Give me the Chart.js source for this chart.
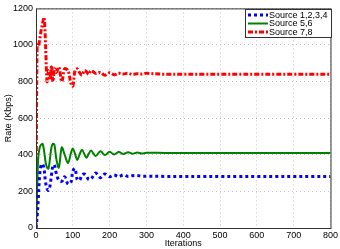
<!DOCTYPE html>
<html>
<head>
<meta charset="utf-8">
<script src="https://cdn.jsdelivr.net/npm/chart.js@4.4.1/dist/chart.umd.min.js"></script>
<style>
  html, body { margin: 0; padding: 0; background: #fff; }
  #wrap { width: 340px; height: 249px; }
</style>
</head>
<body>
<div id="wrap"><canvas id="rateChart"></canvas></div>
<script>
// iterations
const iterations = [0, 3, 6, 10, 14, 18, 22, 26, 30, 34, 38, 42, 46, 50, 55, 62, 70, 78, 87, 95, 100, 106, 112, 118, 125, 131, 137, 143, 150, 162, 175, 187, 200, 212, 225, 237, 250, 262, 275, 287, 300, 350, 400, 450, 500, 550, 600, 650, 700, 750, 800];

const src1234 = [0, 60, 150, 290, 345, 350, 320, 250, 215, 205, 230, 290, 340, 345, 300, 260, 255, 280, 240, 250, 310, 325, 265, 260, 290, 295, 285, 265, 270, 300, 275, 295, 280, 290, 280, 290, 282, 286, 287, 283, 283, 282, 282, 282, 282, 282, 282, 282, 282, 282, 282];
const src56 = [0, 200, 380, 440, 455, 460, 420, 360, 330, 325, 380, 440, 460, 455, 380, 330, 440, 400, 355, 410, 435, 405, 372, 400, 428, 405, 384, 405, 423, 393, 419, 399, 416, 402, 415, 404, 414, 406, 413, 407, 411, 410, 410, 410, 410, 410, 410, 410, 410, 410, 410];
const src78 = [0, 1000, 990, 1030, 1080, 1120, 1150, 1000, 800, 860, 820, 880, 800, 870, 850, 880, 800, 870, 860, 790, 775, 860, 870, 850, 835, 860, 855, 840, 860, 845, 850, 835, 848, 838, 845, 842, 845, 840, 843, 841, 845, 840, 840, 840, 840, 840, 840, 840, 840, 840, 840];

const seriesLabels = ["Source 1,2,3,4", "Source 5,6", "Source 7,8"];
const xTicks = [0, 100, 200, 300, 400, 500, 600, 700, 800];
const yTicks = [0, 200, 400, 600, 800, 1000, 1200];

const pts = (vals) => iterations.map((x, i) => ({ x: x, y: vals[i] }));
const FONT = "Liberation Sans, Arial, sans-serif";

// frame + legend box in matlab style
const boxPlugin = {
  id: "box",
  afterDraw(chart) {
    const { ctx, chartArea: a } = chart;
    ctx.save();
    ctx.strokeStyle = "#333";
    ctx.lineWidth = 1;
    ctx.setLineDash([]);
    ctx.strokeRect(a.left + 0.5, a.top + 0.5, a.right - a.left, a.bottom - a.top);

    // legend
    const lx = 245, ly = 9, lw = 86, lh = 28;
    ctx.fillStyle = "#fff";
    ctx.fillRect(lx, ly, lw, lh);
    ctx.strokeRect(lx + 0.5, ly + 0.5, lw, lh);
    ctx.font = "9px " + FONT;
    ctx.textBaseline = "middle";
    chart.data.datasets.forEach((ds, i) => {
      const yy = ly + 6 + i * 8.5;
      ctx.strokeStyle = ds.borderColor;
      ctx.lineWidth = ds.borderWidth;
      ctx.setLineDash(ds.borderDash || []);
      ctx.beginPath();
      ctx.moveTo(lx + 3, yy);
      ctx.lineTo(lx + 23, yy);
      ctx.stroke();
      ctx.setLineDash([]);
      ctx.fillStyle = "#000";
      ctx.fillText(ds.label, lx + 24, yy + 0.5);
    });
    ctx.restore();
  }
};

new Chart(document.getElementById("rateChart"), {
  type: "line",
  data: {
    datasets: [
      {
        label: seriesLabels[0],
        data: pts(src1234),
        borderColor: "#0000ff",
        borderWidth: 3,
        borderDash: [3, 3],
        pointRadius: 0,
        tension: 0.35,
        fill: false,
      },
      {
        label: seriesLabels[1],
        data: pts(src56),
        borderColor: "#008000",
        borderWidth: 2,
        pointRadius: 0,
        tension: 0.35,
        fill: false,
      },
      {
        label: seriesLabels[2],
        data: pts(src78),
        borderColor: "#ff0000",
        borderWidth: 3,
        borderDash: [5, 2, 2, 2],
        pointRadius: 0,
        tension: 0.35,
        fill: false,
      },
    ],
  },
  options: {
    responsive: true,
    maintainAspectRatio: false,
    animation: false,
    layout: { padding: { left: 0, right: 9, top: 6, bottom: 0 } },
    plugins: { legend: { display: false }, tooltip: { enabled: false } },
    scales: {
      x: {
        type: "linear",
        min: 0,
        max: 800,
        afterBuildTicks: (s) => { s.ticks = xTicks.map((v) => ({ value: v })); },
        afterFit: (s) => { s.height = 21; },
        ticks: { font: { family: FONT, size: 9 }, color: "#000", padding: 2, maxRotation: 0, callback: (v) => String(v) },
        grid: { color: "#c4c4c4", drawTicks: false },
        border: { display: false, dash: [1, 3] },
        title: { display: true, text: "Iterations", font: { family: FONT, size: 9 }, color: "#000", padding: { top: 0, bottom: 0 } },
      },
      y: {
        min: 0,
        max: 1200,
        afterBuildTicks: (s) => { s.ticks = yTicks.map((v) => ({ value: v })); },
        afterFit: (s) => { s.width = 36; },
        ticks: { font: { family: FONT, size: 9 }, color: "#000", padding: 3, callback: (v) => String(v) },
        grid: { color: "#c4c4c4", drawTicks: false },
        border: { display: false, dash: [1, 3] },
        title: { display: true, text: "Rate (Kbps)", font: { family: FONT, size: 9 }, color: "#000", padding: { top: 3, bottom: 0 } },
      },
    },
  },
  plugins: [boxPlugin],
});
</script>
</body>
</html>
